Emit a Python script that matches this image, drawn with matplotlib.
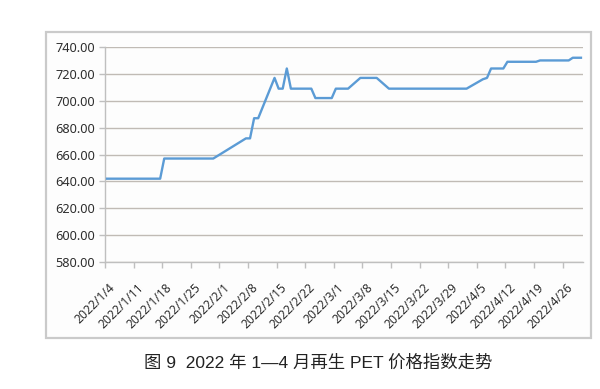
import numpy as np
import matplotlib
matplotlib.use("Agg")
import matplotlib.pyplot as plt
import matplotlib.transforms as mtransforms
from matplotlib.patches import Rectangle

# recycled PET price index, Jan-Apr 2022 (change points)
dates = ['2022-01-04', '2022-01-17', '2022-01-18', '2022-01-30', '2022-02-07',
         '2022-02-08', '2022-02-09', '2022-02-10', '2022-02-14', '2022-02-15',
         '2022-02-16', '2022-02-17', '2022-02-18', '2022-02-23', '2022-02-24',
         '2022-02-28', '2022-03-01', '2022-03-04', '2022-03-07', '2022-03-11',
         '2022-03-14', '2022-04-02', '2022-04-06', '2022-04-07', '2022-04-08',
         '2022-04-11', '2022-04-12', '2022-04-19', '2022-04-20', '2022-04-27',
         '2022-04-28', '2022-04-30']
values = [642, 642, 657, 657, 672,
          672, 687, 687, 717, 709,
          709, 724, 709, 709, 702,
          702, 709, 709, 717, 717,
          709, 709, 716, 717, 724,
          724, 729, 729, 730, 730,
          732, 732]
yticks = [580, 600, 620, 640, 660, 680, 700, 720, 740]
caption = "图 9  2022 年 1—4 月再生 PET 价格指数走势"

start = np.datetime64('2022-01-04')
end = np.datetime64('2022-05-01')
days = (np.array(dates, dtype='datetime64[D]') - start).astype(float)
tick_days = np.arange(0, (end - start).astype(int), 7)
tick_labels = []
for d in tick_days:
    dt = (start + np.timedelta64(int(d), 'D')).astype(object)
    tick_labels.append("{}/{}/{}".format(dt.year, dt.month, dt.day))

fig = plt.figure(figsize=(6, 3.89), dpi=100)
ax = fig.add_axes([105 / 600, 1 - 262 / 389, 478 / 600, 215 / 389])
ax.set_facecolor('#fdfdfd')

# chart frame
fig.patches.append(Rectangle((46 / 600, 1 - 338 / 389), 545 / 600, 306 / 389,
                             transform=fig.transFigure, fill=True,
                             facecolor='#fdfdfd', edgecolor='#cacaca',
                             lw=1.6, zorder=-1))

# points sit in the middle of each day slot
ax.plot(days + 0.5, values, color='#5b9bd5', lw=1.7, solid_joinstyle='round', zorder=3)

ax.set_xlim(0, (end - start).astype(int))
ax.set_ylim(580, 740)
ax.set_yticks(yticks)
ax.set_yticklabels(["{:.2f}".format(v) for v in yticks])
ax.set_xticks(tick_days)
ax.set_xticklabels(tick_labels, rotation=45, ha='right', va='center',
                   rotation_mode='anchor')

ax.grid(axis='y', color='#c0bbb5', lw=1.0)
ax.set_axisbelow(True)
for s in ['top', 'right']:
    ax.spines[s].set_visible(False)
for s in ['left', 'bottom']:
    ax.spines[s].set_color('#bfbfbf')
    ax.spines[s].set_linewidth(1.0)
ax.tick_params(axis='both', colors='#bfbfbf', length=4, width=1.0)
ax.tick_params(axis='y', labelsize=9.2, labelcolor='#2e2e2e', pad=3)
ax.tick_params(axis='x', labelsize=8.7, labelcolor='#2e2e2e', pad=2)
for lab in ax.get_yticklabels() + ax.get_xticklabels():
    lab.set_family(['Noto Sans', 'DejaVu Sans'])

# shift rotated date labels so their ends sit just right of / below the ticks
# (must come after tick_params, which resets the label transforms)
offset = mtransforms.ScaledTranslation(8 / 100, -15 / 100, fig.dpi_scale_trans)
for lab in ax.get_xticklabels():
    lab.set_transform(lab.get_transform() + offset)

fig.text(318.5 / 600, 1 - 363 / 389, caption, ha='center', va='center',
         fontsize=12.5, color='#222222',
         family=['Liberation Sans', 'Noto Sans CJK SC', 'DejaVu Sans'])

fig.savefig('out.png', dpi=100)
